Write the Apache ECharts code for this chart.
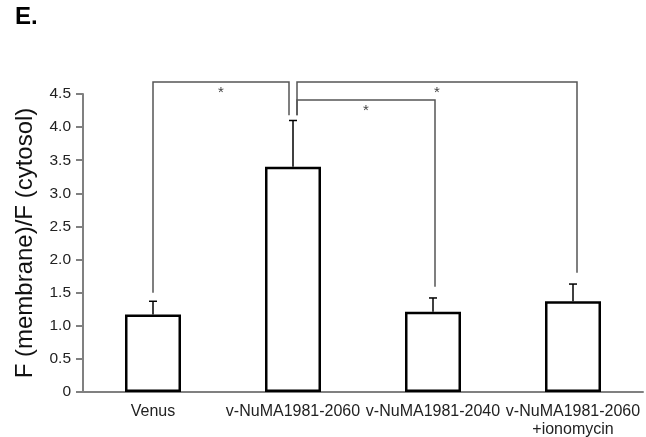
<!DOCTYPE html>
<html>
<head>
<meta charset="utf-8">
<script src="https://cdn.jsdelivr.net/npm/echarts@6/dist/echarts.min.js"></script>
<style>
  html, body { margin: 0; padding: 0; background: #fff; }
  #main { width: 646px; height: 437px; }
</style>
</head>
<body>
<div id="main"></div>
<script>
// categories and values
var categories = ['Venus', 'v-NuMA1981-2060', 'v-NuMA1981-2040', 'v-NuMA1981-2060\n+ionomycin'];
var means = [1.17, 3.40, 1.21, 1.37];
var errors = [0.20, 0.70, 0.21, 0.26];
var yTicks = [0, 0.5, 1.0, 1.5, 2.0, 2.5, 3.0, 3.5, 4.0, 4.5];

// significance brackets: [fromCat, toCat, level, legEndFrom, legEndTo]
var brackets = [
  [0, 1, 4.68, 1.50, 4.18],
  [1, 3, 4.68, 4.18, 1.80],
  [1, 2, 4.41, 4.18, 1.59]
];
var bracketLabels = ['*', '*', '*'];
// leg offsets (px) so the two legs over bar 2 sit side by side
var legShift = [[0, -4], [4, 4], [4, 2]];

var myChart = echarts.init(document.getElementById('main'));

var font = 'Liberation Sans, Arial, sans-serif';

myChart.setOption({
  animation: false,
  title: {
    text: 'E.',
    left: 10,
    top: 0,
    textStyle: { fontFamily: font, fontSize: 24, fontWeight: 'bold', color: '#000' }
  },
  grid: { left: 83, right: 3, top: 94, bottom: 45, outerBoundsMode: 'none', containLabel: false },
  xAxis: {
    type: 'category',
    data: categories,
    axisLine: { lineStyle: { color: '#808080', width: 2 } },
    axisTick: { length: 5, lineStyle: { color: '#808080', width: 2 } },
    axisLabel: {
      color: '#222', fontFamily: font, fontSize: 16, margin: 11, lineHeight: 18,
      interval: 0
    }
  },
  yAxis: {
    type: 'value',
    min: yTicks[0],
    max: yTicks[yTicks.length - 1],
    interval: 0.5,
    name: 'F (membrane)/F (cytosol)',
    nameLocation: 'middle',
    nameGap: 46,
    nameTextStyle: { fontFamily: font, fontSize: 24, color: '#111' },
    axisLine: { show: true, lineStyle: { color: '#808080', width: 2 } },
    axisTick: { show: true, length: 7, lineStyle: { color: '#808080', width: 2 } },
    splitLine: { show: false },
    axisLabel: {
      color: '#222', fontFamily: font, fontSize: 15.5, margin: 12,
      formatter: function (v) { return v === 0 ? '0' : v.toFixed(1); }
    }
  },
  series: [
    {
      name: 'mean',
      type: 'bar',
      data: means,
      barWidth: 56,
      itemStyle: { color: '#fff', borderColor: '#000', borderWidth: 2.5 },
      z: 1
    },
    {
      name: 'error',
      type: 'custom',
      data: means.map(function (m, i) { return [i, m, m + errors[i]]; }),
      renderItem: function (params, api) {
        var lo = api.coord([api.value(0), api.value(1)]);
        var hi = api.coord([api.value(0), api.value(2)]);
        var s = { stroke: '#000', lineWidth: 1.5 };
        return {
          type: 'group',
          children: [
            { type: 'line', shape: { x1: lo[0], y1: lo[1], x2: hi[0], y2: hi[1] }, style: s },
            { type: 'line', shape: { x1: hi[0] - 4, y1: hi[1], x2: hi[0] + 4, y2: hi[1] }, style: s }
          ]
        };
      },
      z: 3
    },
    {
      name: 'brackets',
      type: 'custom',
      clip: false,
      data: brackets,
      renderItem: function (params, api) {
        var i = params.dataIndex;
        var a = api.coord([api.value(0), api.value(2)]);
        var b = api.coord([api.value(1), api.value(2)]);
        var ea = api.coord([api.value(0), api.value(3)]);
        var eb = api.coord([api.value(1), api.value(4)]);
        var xa = a[0] + legShift[i][0];
        var xb = b[0] + legShift[i][1];
        var s = { stroke: '#555', lineWidth: 1.5, fill: null };
        return {
          type: 'group',
          children: [
            {
              type: 'polyline',
              shape: { points: [[xa, ea[1]], [xa, a[1]], [xb, b[1]], [xb, eb[1]]] },
              style: s
            },
            {
              type: 'text',
              style: {
                text: bracketLabels[i], x: (xa + xb) / 2, y: a[1] + 3,
                align: 'center', verticalAlign: 'top',
                fontFamily: font, fontSize: 15, fill: '#444'
              }
            }
          ]
        };
      },
      z: 4
    }
  ]
});
</script>
</body>
</html>
